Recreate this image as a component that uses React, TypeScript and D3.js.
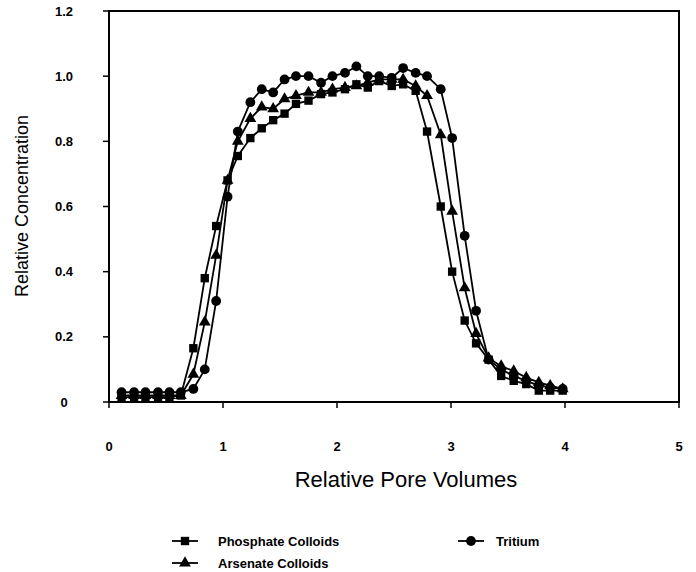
import React from "react";
import * as d3 from "d3";

const poreVolumes = [0.11, 0.22, 0.32, 0.43, 0.53, 0.63, 0.74, 0.84, 0.94, 1.04, 1.13, 1.24, 1.34, 1.44, 1.54, 1.64, 1.75, 1.86, 1.96, 2.07, 2.17, 2.27, 2.37, 2.48, 2.58, 2.69, 2.79, 2.91, 3.01, 3.12, 3.22, 3.33, 3.44, 3.55, 3.66, 3.77, 3.87, 3.98];

const phosphate = [0.015, 0.015, 0.015, 0.015, 0.015, 0.02, 0.165, 0.38, 0.54, 0.68, 0.755, 0.81, 0.84, 0.865, 0.885, 0.915, 0.925, 0.945, 0.95, 0.96, 0.975, 0.965, 0.985, 0.97, 0.975, 0.955, 0.83, 0.6, 0.4, 0.25, 0.18, 0.13, 0.08, 0.065, 0.055, 0.035, 0.035, 0.035];

const arsenate = [0.02, 0.02, 0.02, 0.02, 0.02, 0.02, 0.085, 0.245, 0.45, 0.68, 0.8, 0.87, 0.905, 0.9, 0.93, 0.94, 0.95, 0.95, 0.96, 0.965, 0.97, 0.98, 0.99, 0.99, 0.99, 0.97, 0.94, 0.82, 0.585, 0.35, 0.21, 0.135, 0.11, 0.095, 0.075, 0.06, 0.05, 0.04];

const tritium = [0.03, 0.03, 0.03, 0.03, 0.03, 0.03, 0.04, 0.1, 0.31, 0.63, 0.83, 0.92, 0.96, 0.95, 0.99, 1.0, 1.0, 0.98, 1.0, 1.01, 1.03, 1.0, 1.0, 0.995, 1.025, 1.01, 1.0, 0.96, 0.81, 0.51, 0.28, 0.13, 0.1, 0.08, 0.065, 0.05, 0.045, 0.04];

const xTicks = [0, 1, 2, 3, 4, 5];
const yTicks = [0, 0.2, 0.4, 0.6, 0.8, 1.0, 1.2];
const yTickLabels = ["0", "0.2", "0.4", "0.6", "0.8", "1.0", "1.2"];

const seriesNames = ["Phosphate Colloids", "Arsenate Colloids", "Tritium"];

const W = 696;
const H = 572;
const left = 109;
const right = 679;
const top = 11;
const bottom = 402;

const font = "'Liberation Sans', Arial, Helvetica, sans-serif";

export default function App() {
  const x = d3.scaleLinear().domain([0, 5]).range([left, right]);
  const y = d3.scaleLinear().domain([0, 1.2]).range([bottom, top]);

  const series = [
    { name: seriesNames[0], values: phosphate, symbol: d3.symbolSquare, size: 70 },
    { name: seriesNames[1], values: arsenate, symbol: d3.symbolTriangle, size: 60 },
    { name: seriesNames[2], values: tritium, symbol: d3.symbolCircle, size: 75 },
  ];

  const line = d3
    .line<[number, number]>()
    .x((d) => x(d[0]))
    .y((d) => y(d[1]));

  const legendItems = [
    { s: series[0], lx: 172, ty: 541, tx: 218 },
    { s: series[1], lx: 172, ty: 563, tx: 218 },
    { s: series[2], lx: 458, ty: 541, tx: 496 },
  ];

  return (
    <svg
      width={W}
      height={H}
      style={{ position: "absolute", left: 0, top: 0, background: "#fff" }}
      fontFamily={font}
    >
      <rect x={0} y={0} width={W} height={H} fill="#fff" />
      {/* frame */}
      <rect x={left} y={top} width={right - left} height={bottom - top} fill="none" stroke="#000" strokeWidth={2} />
      {/* y ticks */}
      {yTicks.map((t, i) => (
        <g key={"y" + i}>
          <line x1={left - 6} x2={left} y1={y(t)} y2={y(t)} stroke="#000" strokeWidth={1.5} />
          <text x={64} y={y(t)} dy="0.35em" textAnchor="middle" fontSize={13} fontWeight="bold" fill="#000">
            {yTickLabels[i]}
          </text>
        </g>
      ))}
      {/* x ticks */}
      {xTicks.map((t, i) => (
        <g key={"x" + i}>
          <line x1={x(t)} x2={x(t)} y1={bottom} y2={bottom + 6} stroke="#000" strokeWidth={1.5} />
          <text x={x(t)} y={446} dy="0.35em" textAnchor="middle" fontSize={13} fontWeight="bold" fill="#000">
            {t}
          </text>
        </g>
      ))}
      {/* axis titles */}
      <text x={406} y={479} dy="0.35em" textAnchor="middle" fontSize={22} fill="#000">
        Relative Pore Volumes
      </text>
      <text
        transform={`translate(22,206) rotate(-90)`}
        dy="0.35em"
        textAnchor="middle"
        fontSize={18}
        fill="#000"
      >
        Relative Concentration
      </text>
      {/* series */}
      {series.map((s, si) => {
        const pts: [number, number][] = poreVolumes.map((p, i) => [p, s.values[i]]);
        const sym = d3.symbol().type(s.symbol).size(s.size)();
        return (
          <g key={"s" + si}>
            <path d={line(pts) || ""} fill="none" stroke="#000" strokeWidth={1.8} />
            {pts.map((p, i) => (
              <path key={i} d={sym || ""} transform={`translate(${x(p[0])},${y(p[1])})`} fill="#000" />
            ))}
          </g>
        );
      })}
      {/* legend */}
      {legendItems.map((it, i) => {
        const sym = d3.symbol().type(it.s.symbol).size(it.s.size)();
        return (
          <g key={"l" + i}>
            <line x1={it.lx} x2={it.lx + 26} y1={it.ty} y2={it.ty} stroke="#000" strokeWidth={1.8} />
            <path d={sym || ""} transform={`translate(${it.lx + 13},${it.ty})`} fill="#000" />
            <text x={it.tx} y={it.ty} dy="0.35em" fontSize={13} fontWeight="bold" fill="#000">
              {it.s.name}
            </text>
          </g>
        );
      })}
    </svg>
  );
}
